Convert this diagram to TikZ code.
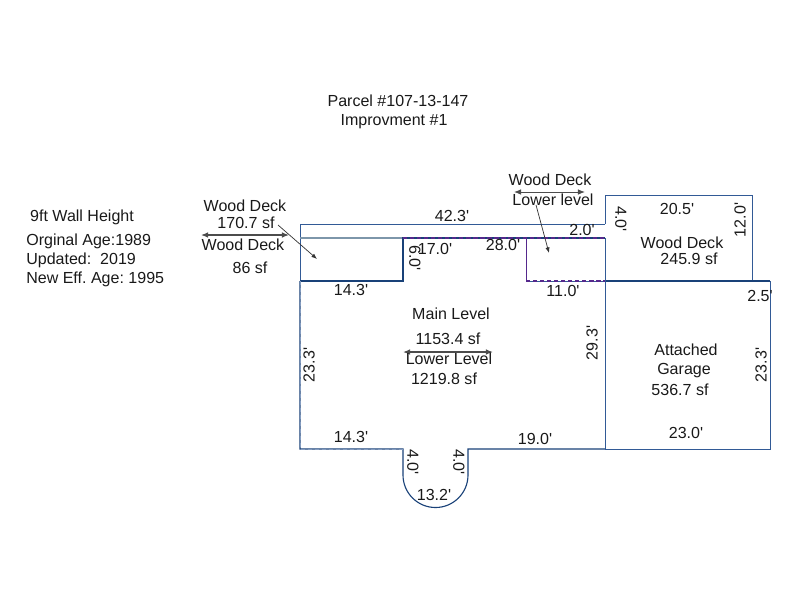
\documentclass[tikz,border=0pt]{standalone}
\usepackage{fontspec}
\setmainfont[Ligatures=TeXOff]{Liberation Sans}
\frenchspacing
\usetikzlibrary{arrows.meta}
\definecolor{wallblue}{RGB}{50,90,150}
\definecolor{deepblue}{RGB}{25,65,120}
\definecolor{lowerpurple}{RGB}{85,40,140}
\definecolor{paleblue}{RGB}{125,150,170}
\begin{document}
\begin{tikzpicture}[x=.025cm,y=-.025cm,
    lbl/.style={font=\fontsize{11.4}{13}\selectfont,text=black!90,inner sep=0pt,text height=8pt,text depth=0pt},
    lblup/.style={lbl,rotate=90},
    lbldown/.style={lbl,rotate=-90},
    wall/.style={draw=wallblue,line width=.7pt},
    mainwall/.style={draw=deepblue,line width=.8pt},
    lowerwall/.style={draw=lowerpurple,line width=.8pt,densely dashed},
    leader/.style={draw=black!80,line width=.5pt,-{Latex[length=4pt,width=3pt]}},
    split/.style={draw=black!70,line width=.9pt,{Latex[length=5pt,width=4pt]}-{Latex[length=5pt,width=4pt]}}]
    \useasboundingbox (0,0) rectangle (800,600);
    % wood deck, left
    \draw[wall] (300,281) -- (300,224) -- (605,224);
    \draw[draw=paleblue,line width=.8pt] (300,238) -- (403,238);
    % wood deck, right
    \draw[wall] (605,224) -- (605,195) -- (752,195) -- (752,281);
    % main level
    \draw[mainwall] (300,281) -- (403,281) -- (403,238) -- (605,238);
    \draw[lowerwall] (403,238) -- (605,238);
    \draw[draw=lowerpurple,line width=.7pt] (526,238) -- (526,281);
    \draw[wall] (526,281) -- (605,281);
    \draw[lowerwall] (526,281) -- (605,281);
    \draw[mainwall] (605,281) -- (770,281);
    \draw[wall] (770,281) -- (770,449) -- (605,449);
    \draw[wall] (605,238) -- (605,449);
    \draw[mainwall] (300,281) -- (300,449) -- (403,449) -- (403,475)
      arc[start angle=180,end angle=0,x radius=32.5,y radius=32.5] -- (468,449) -- (605,449);
    \draw[draw=wallblue!60,line width=.5pt,densely dashed] (300,281) -- (300,449) -- (403,449);
    % leaders
    \draw[split] (201,235) -- (289,235);
    \draw[leader] (278,225) -- (317,259);
    \draw[split,line width=.7pt] (514,192) -- (585,192);
    \draw[leader] (536,205) -- (549,253);
    \draw[split] (403,352) -- (493,352);
    % notes
    \node[lbl] (parcel) at (398,101) {Parcel \#107-13-147};
    \node[lbl] (improv) at (394,120) {Improvment \#1};
    \node[lbl] (height) at (82,216) {9ft Wall Height};
    \node[lbl,anchor=west] (age) at (26,240) {Orginal Age:1989};
    \node[lbl,anchor=west] (updated) at (26,259) {Updated:\ \ 2019};
    \node[lbl,anchor=west] (effage) at (26,278) {New Eff. Age: 1995};
    % areas
    \node[lbl] (deckA) at (245,206) {Wood Deck};
    \node[lbl] (deckAsf) at (246,223) {170.7 sf};
    \node[lbl] (deckB) at (243,245) {Wood Deck};
    \node[lbl] (deckBsf) at (250,268) {86 sf};
    \node[lbl] (deckC) at (550,180) {Wood Deck};
    \node[lbl] (deckD) at (553,200) {Lower level};
    \node[lbl] (deckE) at (682,243) {Wood Deck};
    \node[lbl] (deckEsf) at (689,259) {245.9 sf};
    \node[lbl] (mainlevel) at (451,314) {Main Level};
    \node[lbl] (mainsf) at (448,339) {1153.4 sf};
    \node[lbl] (lowerlevel) at (449,359) {Lower Level};
    \node[lbl] (lowersf) at (444,379) {1219.8 sf};
    \node[lbl] (garage) at (686,350) {Attached};
    \node[lbl] (garageB) at (684,369) {Garage};
    \node[lbl] (garagesf) at (680,390) {536.7 sf};
    % dimensions
    \node[lbl] (d1) at (452,216) {42.3'};
    \node[lbl] (d2) at (582,230) {2.0'};
    \node[lbl] (d3) at (435,249) {17.0'};
    \node[lbl] (d4) at (503,245) {28.0'};
    \node[lbl] (d5) at (351,290) {14.3'};
    \node[lbl] (d6) at (563,291) {11.0'};
    \node[lbl] (d7) at (677,209) {20.5'};
    \node[lbl] (d8) at (760,296) {2.5'};
    \node[lbl] (d9) at (351,437) {14.3'};
    \node[lbl] (d10) at (535,439) {19.0'};
    \node[lbl] (d11) at (686,433) {23.0'};
    \node[lbl] (d12) at (434,495) {13.2'};
    \node[lbldown] (d13) at (621,219) {4.0'};
    \node[lbldown] (d14) at (415,258) {6.0'};
    \node[lbldown] (d15) at (413,462) {4.0'};
    \node[lbldown] (d16) at (459,462) {4.0'};
    \node[lblup] (d17) at (740,220) {12.0'};
    \node[lblup] (d18) at (309,365) {23.3'};
    \node[lblup] (d19) at (592,343) {29.3'};
    \node[lblup] (d20) at (761,365) {23.3'};
\end{tikzpicture}
\end{document}
